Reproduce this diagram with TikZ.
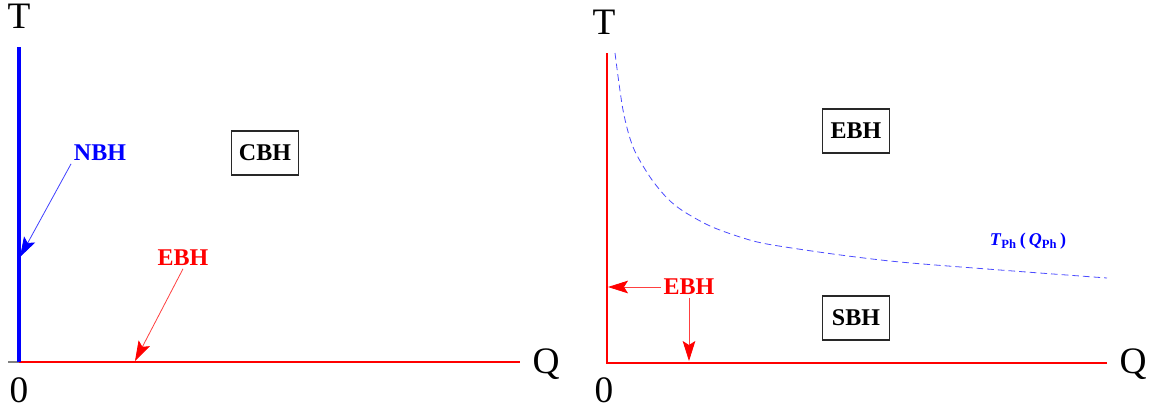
\documentclass[tikz,border=0pt]{standalone}
\usepackage{fontspec}
\setmainfont{Liberation Serif}
\usetikzlibrary{arrows.meta,positioning}
\definecolor{pblue}{RGB}{0,0,255}
\definecolor{pred}{RGB}{255,0,0}
\definecolor{frame}{RGB}{40,40,40}
\tikzset{
  axislabel/.style={font=\fontsize{28}{30}\selectfont,inner sep=0pt},
  phase/.style={draw=frame,line width=1.1pt,font=\fontsize{18}{20}\selectfont\bfseries,
    minimum width=50pt,minimum height=33pt,inner sep=2pt},
  tag/.style={text=#1,font=\fontsize{18}{20}\selectfont\bfseries,inner sep=2pt},
  tag/.default=pred,
  pointer/.style={-{Stealth[length=15pt,width=9.5pt,inset=3pt,color=#1]},draw=#1!75,line width=0.6pt},
  pointer/.default=pred,
  axis/.style={draw=#1,line width=1.6pt},
}
\begin{document}
\begin{tikzpicture}[x=0.75pt,y=-0.75pt]
  \useasboundingbox (0,0) rectangle (1157,412);
  % left panel
  \coordinate (oL) at (19,362);
  \coordinate (qL) at (520,362);
  \coordinate (tL) at (19,47);
  \draw[gray,line width=1.5pt] (8,362) -- (oL);
  \draw[axis=pred,line width=1.5pt] (oL) -- (qL);
  \draw[axis=pblue,line width=2.4pt] (oL) -- (tL);
  \node[axislabel] (TL) at (19,16) {T};
  \node[axislabel] (QL) at (546,364) {Q};
  \node[axislabel] (zeroL) at (19,390) {0};
  \node[phase] (cbh) at (265,153) {CBH};
  \node[tag=pblue] (nbh) at (100,153) {NBH};
  \node[tag] (ebhL) at (183,258) {EBH};
  \coordinate (nbhhit) at (20,257);
  \coordinate (ebhLhit) at (135,361);
  \draw[pointer=pblue] (nbh.south west) -- (nbhhit);
  \draw[pointer] (ebhL.south) -- (ebhLhit);
  % right panel
  \coordinate (oR) at (607,363);
  \coordinate (qR) at (1107,363);
  \coordinate (tR) at (607,53);
  \draw[axis=pred,line width=2.2pt] (qR) -- (oR) -- (tR);
  \node[axislabel] (TR) at (604,22) {T};
  \node[axislabel] (QR) at (1133,364) {Q};
  \node[axislabel] (zeroR) at (604,390) {0};
  \draw[pblue!70,line width=0.6pt,dash pattern=on 5pt off 3pt] plot[smooth] coordinates
    {(615,53) (623,110) (633,147) (650,177) (667,198) (683,211) (710,226)
     (740,237) (767,244) (833,254) (900,262) (1000,270) (1107,278)};
  \node[text=pblue,font=\fontsize{13.5}{15}\selectfont\bfseries,inner sep=0pt] (tph) at (1028,241)
    {\textit{T}\textsubscript{Ph}\,(\,\textit{Q}\textsubscript{Ph}\,)};
  \node[phase] (ebhbox) at (856,131) {EBH};
  \node[phase] (sbh) at (856,318) {SBH};
  \node[tag] (ebhR) at (689,287) {EBH};
  \coordinate (ebhRleft) at (608,287);
  \coordinate (ebhRdown) at (689,361);
  \draw[pointer] (ebhR.west) -- (ebhRleft);
  \draw[pointer] (ebhR.south) -- (ebhRdown);
\end{tikzpicture}
\end{document}
